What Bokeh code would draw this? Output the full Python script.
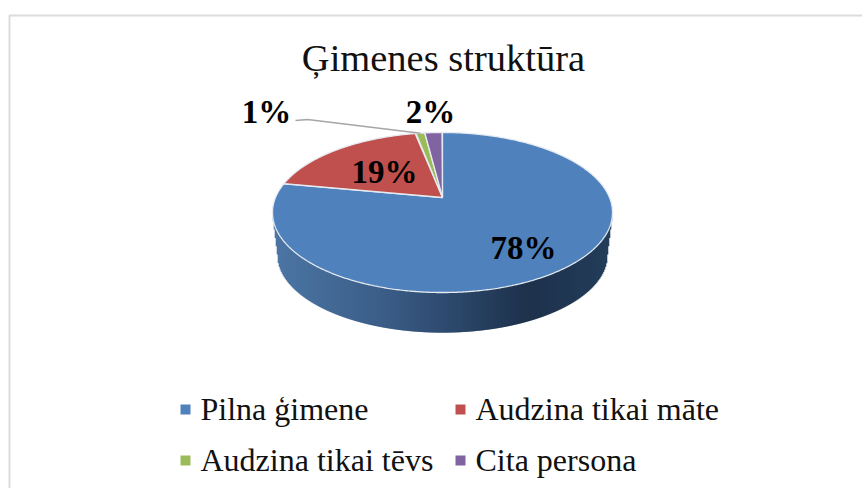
import numpy as np
from bokeh.plotting import figure
from bokeh.models import Range1d, ColumnDataSource
from bokeh.core.properties import value
from bokeh.embed import file_html
from bokeh.resources import INLINE

title = "Ģimenes struktūra"
categories = ["Pilna ģimene", "Audzina tikai māte", "Audzina tikai tēvs", "Cita persona"]
shares = [78, 19, 1, 2]
colors = ["#4F81BD", "#C0504D", "#9BBB59", "#8064A2"]
label_x = [523, 384, 266, 430]
label_y = [247, 171, 111, 111]
legend_x = [180, 455, 180, 455]
legend_y = [409, 409, 460, 460]
side_stops = [(0.0, (78, 119, 166)), (0.35, (58, 92, 134)), (0.75, (30, 50, 76)), (1.0, (36, 62, 92))]

CX, AY = 442.0, 197.0
SERIF = "Liberation Serif"


def rim(theta_deg, scale=1.0, apex_y=AY):
    t = np.radians(theta_deg)
    u, v = np.sin(t), np.cos(t)
    d = 1 + 0.1875 * v
    return CX + scale * 167.0 * u / d, apex_y - scale * 77.2 * v / d


p = figure(width=862, height=488, x_range=Range1d(0, 862), y_range=Range1d(488, 0),
           output_backend="svg", toolbar_location=None, min_border=0,
           outline_line_color=None, background_fill_color="white", border_fill_color="white")
p.axis.visible = False
p.grid.visible = False

# chart frame
p.line([9, 9, 862], [488, 15, 15], line_color="#dcdcdc", line_width=2)

# side wall: one-pixel columns shaded left to right, down to the lower rim
th_low = np.arange(259.0, 100.5, -0.5)
low_x, low_y = rim(th_low, 0.97, 240.0)
up_lx, up_ly = rim(th_low[0])
up_rx, up_ry = rim(th_low[-1])
sil_x = np.r_[up_lx, low_x, up_rx]
sil_y = np.r_[up_ly, low_y, up_ry]
cols = np.arange(np.floor(up_lx) + 1, np.ceil(up_rx))
pos = [s[0] for s in side_stops]
shade = []
for c in cols:
    f = (c - cols[0]) / (cols[-1] - cols[0])
    shade.append("#%02x%02x%02x" % tuple(int(np.interp(f, pos, [s[1][i] for s in side_stops])) for i in range(3)))
bottoms = np.interp(cols, sil_x, sil_y)
p.segment(x0=cols, y0=np.full(len(cols), up_ly), x1=cols, y1=bottoms,
          line_color=shade, line_width=1.6, line_alpha=1.0)

# top face
start = 0.0
for share, col in zip(shares, colors):
    end = start + share * 3.6
    th = np.arange(start, end + 0.01, 0.5)
    rx, ry = rim(th)
    p.patch(np.r_[CX, rx], np.r_[AY, ry], fill_color=col, line_color="#e6ebf1", line_width=1.3)
    start = end

# leader line for the smallest slice
ex, ey = rim(sum(shares[:2]) * 3.6 + shares[2] * 1.8)
p.line([295, 307, ex], [120, 119, ey], line_color="#a6a6a6", line_width=1.5)

# texts
p.text([443], [57], text=[title], text_font=value(SERIF), text_font_size="38.5px",
       text_align="center", text_baseline="alphabetic", text_color="#111111")
src = ColumnDataSource(dict(x=label_x, y=label_y, t=[f"{s}%" for s in shares]))
p.text("x", "y", text="t", source=src, text_font=value(SERIF), text_font_size="33px",
       text_font_style="bold", text_align="center", text_baseline="alphabetic", text_color="#000000")

# legend
for cat, col, lx, ly in zip(categories, colors, legend_x, legend_y):
    p.rect([lx + 5], [ly], width=10, height=10, fill_color=col, line_color=None)
    p.text([lx + 20], [ly - 1], text=[cat], text_font=value(SERIF), text_font_size="32px",
           text_align="left", text_baseline="alphabetic", text_color="#111111")

open("out.html", "w").write(file_html(p, INLINE))
